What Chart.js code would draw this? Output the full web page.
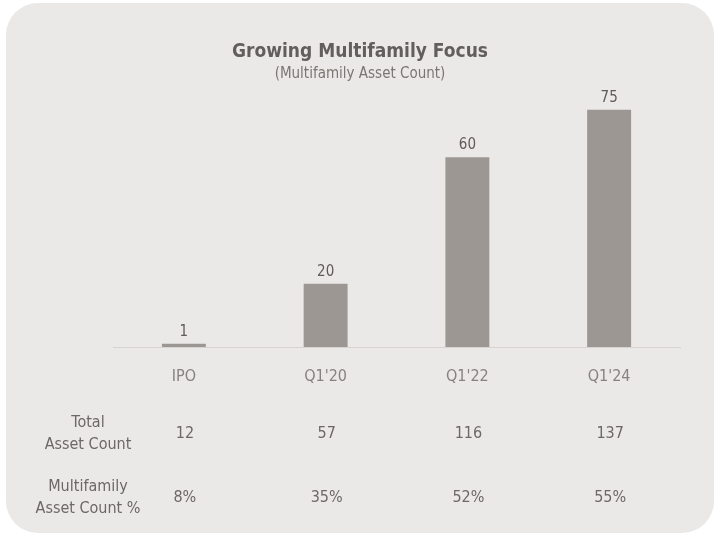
<!DOCTYPE html>
<html>
<head>
<meta charset="utf-8">
<script src="https://cdn.jsdelivr.net/npm/chart.js@4.4.1/dist/chart.umd.min.js"></script>
<style>
  html, body { margin: 0; padding: 0; background: #ffffff; }
  #card {
    position: absolute; left: 6px; top: 3px; width: 708px; height: 530px;
    background: #ebe9e7; border-radius: 32px;
  }
  #wrap { position: absolute; left: 0; top: 0; width: 720px; height: 537px; }
</style>
</head>
<body>
<div id="card"></div>
<div id="wrap"><canvas id="mfChart" width="720" height="537"></canvas></div>
<script>
// chart data
const periods = ['IPO', "Q1'20", "Q1'22", "Q1'24"];
const multifamilyCount = [1, 20, 60, 75];
const totalAssetCount = ['12', '57', '116', '137'];
const multifamilyPct = ['8%', '35%', '52%', '55%'];
const rowLabels = [['Total', 'Asset Count'], ['Multifamily', 'Asset Count %']];

const FONT = "'Liberation Sans Narrow', 'DejaVu Sans Condensed', 'Roboto', sans-serif";
const TEXT = '#6c6865';

// title, bar value labels and the table under the axis
const extrasPlugin = {
    id: 'extras',
    afterDraw(chart) {
        const ctx = chart.ctx;
        const x = chart.scales.x;
        ctx.save();
        ctx.textAlign = 'center';
        ctx.textBaseline = 'middle';

        ctx.fillStyle = '#625e5b';
        ctx.font = 'bold 19px ' + FONT;
        ctx.fillText('Growing Multifamily Focus', 360, 52);
        ctx.fillStyle = '#7a7672';
        ctx.font = '15px ' + FONT;
        ctx.fillText('(Multifamily Asset Count)', 360, 74);

        // values above bars
        ctx.fillStyle = '#5f5b58';
        ctx.font = '15px ' + FONT;
        chart.getDatasetMeta(0).data.forEach((bar, i) => {
            ctx.fillText(String(multifamilyCount[i]), bar.x, bar.y - 12);
        });

        // table rows
        ctx.fillStyle = TEXT;
        ctx.font = '16px ' + FONT;
        const rows = [totalAssetCount, multifamilyPct];
        const rowY = [434, 498];
        rows.forEach((vals, r) => {
            ctx.fillText(rowLabels[r][0], 88, rowY[r] - 11);
            ctx.fillText(rowLabels[r][1], 88, rowY[r] + 11);
            vals.forEach((v, i) => {
                ctx.fillText(v, x.getPixelForValue(i) + 1, rowY[r]);
            });
        });
        ctx.restore();
    }
};

new Chart(document.getElementById('mfChart').getContext('2d'), {
    type: 'bar',
    data: {
        labels: periods,
        datasets: [{
            data: multifamilyCount,
            backgroundColor: '#9c9792',
            borderWidth: 0,
            barPercentage: 0.31,
            categoryPercentage: 1
        }]
    },
    options: {
        responsive: false,
        animation: false,
        events: [],
        layout: { padding: { left: 113, right: 40, top: 94, bottom: 150 } },
        plugins: {
            legend: { display: false },
            title: { display: false },
            tooltip: { enabled: false }
        },
        scales: {
            x: {
                afterFit: (scale) => { scale.height = 40; },
                grid: { display: false, drawTicks: false },
                border: { display: true, color: '#d6d3d0', width: 1 },
                ticks: { color: '#86827e', font: { family: FONT, size: 16 }, padding: 20 }
            },
            y: { display: false, min: 0, max: 80 }
        }
    },
    plugins: [extrasPlugin]
});
</script>
</body>
</html>
